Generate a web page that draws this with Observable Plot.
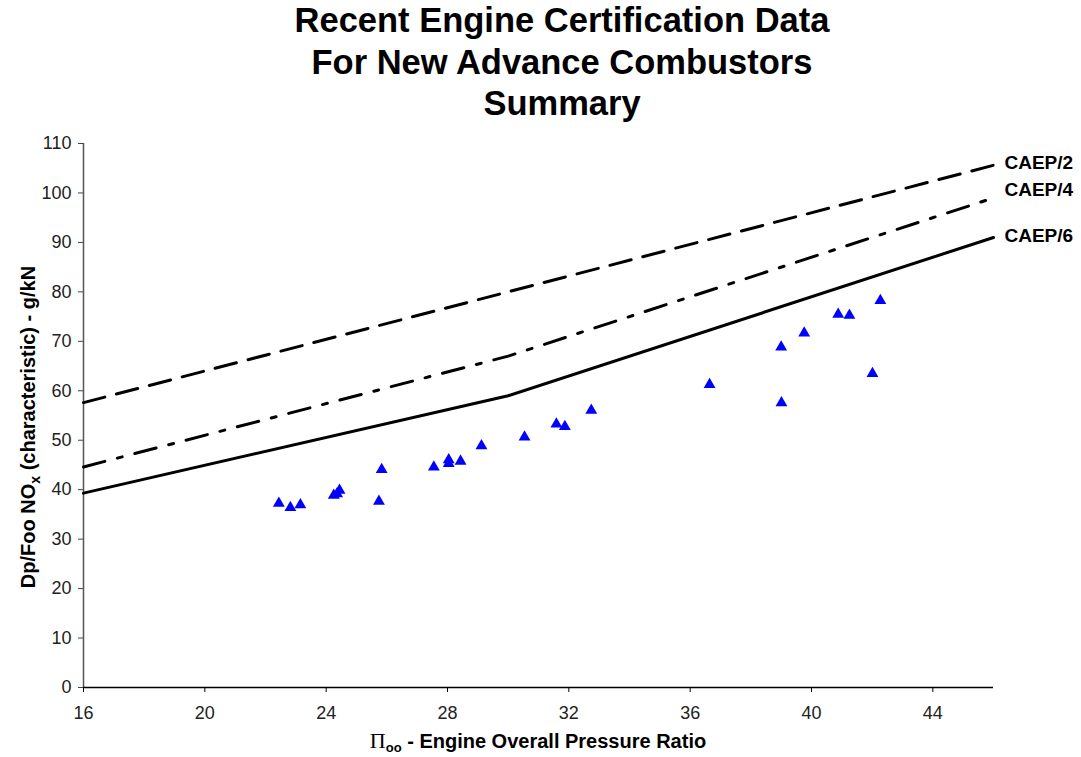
<!DOCTYPE html>
<html><head><meta charset="utf-8">
<script src="https://cdn.jsdelivr.net/npm/d3@7"></script>
<script src="https://cdn.jsdelivr.net/npm/@observablehq/plot@0.6"></script>
<style>
body{margin:0;background:#fff;font-family:"Liberation Sans",Arial,sans-serif;}
#wrap{width:1081px;height:757px;position:relative;overflow:hidden;background:#fff}
#title{height:130px;box-sizing:border-box;padding-left:43px;padding-top:0px;text-align:center;font-weight:bold;font-size:34.5px;line-height:41.5px;color:#000;white-space:nowrap}
#chart svg{display:block}
</style></head><body>
<div id="wrap">
<div id="title">Recent Engine Certification Data<br>For New Advance Combustors<br>Summary</div>
<div id="chart"></div>
</div>
<script>
// Engine certification data
const engineOPR = [22.44, 22.82, 23.15, 24.25, 24.44, 24.36, 25.74, 25.83, 27.55, 28.04, 28.04, 28.43, 29.12, 30.54, 31.59, 31.87, 32.74, 36.64, 39.00, 39.01, 39.76, 40.88, 41.25, 42.01, 42.27];
const engineNOx = [37.6, 36.7, 37.3, 39.2, 40.2, 39.5, 38.0, 44.4, 44.9, 46.4, 45.6, 46.1, 49.2, 51.0, 53.6, 53.1, 56.4, 61.6, 69.2, 57.9, 72.0, 75.8, 75.6, 63.8, 78.6];

// Regulatory limit lines
const limitNames = ["CAEP/2", "CAEP/4", "CAEP/6"];
const caep2OPR = [16, 46];
const caep2NOx = [57.6, 105.6];
const caep4OPR = [16, 30, 46];
const caep4NOx = [44.6, 67.0, 99.0];
const caep6OPR = [16, 30, 46];
const caep6NOx = [39.3, 59.0, 91.0];

// Axis ticks
const xTicks = [16, 20, 24, 28, 32, 36, 40, 44];
const yTicks = [0, 10, 20, 30, 40, 50, 60, 70, 80, 90, 100, 110];

const engines = engineOPR.map((x, i) => ({x, y: engineNOx[i]}));
const toPts = (xs, ys) => xs.map((x, i) => ({x, y: ys[i]}));
const caep2 = toPts(caep2OPR, caep2NOx);
const caep4 = toPts(caep4OPR, caep4NOx);
const caep6 = toPts(caep6OPR, caep6NOx);
const ends = [caep2, caep4, caep6].map((s, i) => ({...s[s.length - 1], name: limitNames[i]}));

const labelFont = {fontWeight: "bold", fontSize: 19, fill: "#000", textAnchor: "start", dx: 11};

const chart = Plot.plot({
  width: 1081,
  height: 627,
  marginLeft: 83,
  marginRight: 88,
  marginTop: 13,
  marginBottom: 70,
  style: {fontFamily: "'Liberation Sans', Arial, sans-serif", fontSize: "18px", color: "#222", background: "#fff", overflow: "visible"},
  x: {domain: [16, 46]},
  y: {domain: [0, 110]},
  marks: [
    Plot.axisX({ticks: xTicks, tickSize: 5, tickPadding: 14, fontSize: 18, label: null, stroke: "#000"}),
    Plot.axisY({ticks: yTicks, tickSize: 5, tickPadding: 7, fontSize: 18, label: null, stroke: "#444"}),
    Plot.ruleX([16], {stroke: "#555", strokeWidth: 1.5}),
    Plot.ruleY([0], {stroke: "#000", strokeWidth: 1.5}),
    Plot.line(caep2, {x: "x", y: "y", stroke: "#000", strokeWidth: 3, strokeDasharray: "22,12"}),
    Plot.line(caep4, {x: "x", y: "y", stroke: "#000", strokeWidth: 3, strokeDasharray: "22,13,5,13"}),
    Plot.line(caep6, {x: "x", y: "y", stroke: "#000", strokeWidth: 3}),
    Plot.dot(engines, {x: "x", y: "y", symbol: "triangle", r: 4.4, fill: "#0000ff", stroke: "none", dy: 1.7}),
    Plot.text([ends[0]], {x: "x", y: "y", text: "name", ...labelFont, dy: -2}),
    Plot.text([ends[1]], {x: "x", y: "y", text: "name", ...labelFont, dy: -8}),
    Plot.text([ends[2]], {x: "x", y: "y", text: "name", ...labelFont, dy: -2})
  ]
});

const svg = d3.select(chart);
// Y axis label with subscript
const yl = svg.append("text")
  .attr("transform", "translate(35,297) rotate(-90)")
  .attr("text-anchor", "middle")
  .attr("font-family", "'Liberation Sans', Arial, sans-serif")
  .attr("font-size", 20).attr("font-weight", "bold").attr("fill", "#000");
yl.append("tspan").text("Dp/Foo NO");
yl.append("tspan").attr("dy", 5).attr("font-size", 14).text("x");
yl.append("tspan").attr("dy", -5).text(" (characteristic) - g/kN");

// X axis label with Greek Pi and subscript
const xl = svg.append("text")
  .attr("x", 538).attr("y", 618)
  .attr("text-anchor", "middle")
  .attr("font-family", "'Liberation Sans', Arial, sans-serif")
  .attr("font-size", 20).attr("font-weight", "bold").attr("fill", "#000");
xl.append("tspan").attr("font-family", "'Liberation Serif', 'Times New Roman', serif").attr("font-weight", "normal").attr("font-size", 22).text("Π");
xl.append("tspan").attr("dy", 4).attr("font-size", 13).text("oo");
xl.append("tspan").attr("dy", -4).text(" - Engine Overall Pressure Ratio");

document.getElementById("chart").appendChild(chart);
</script>
</body></html>
